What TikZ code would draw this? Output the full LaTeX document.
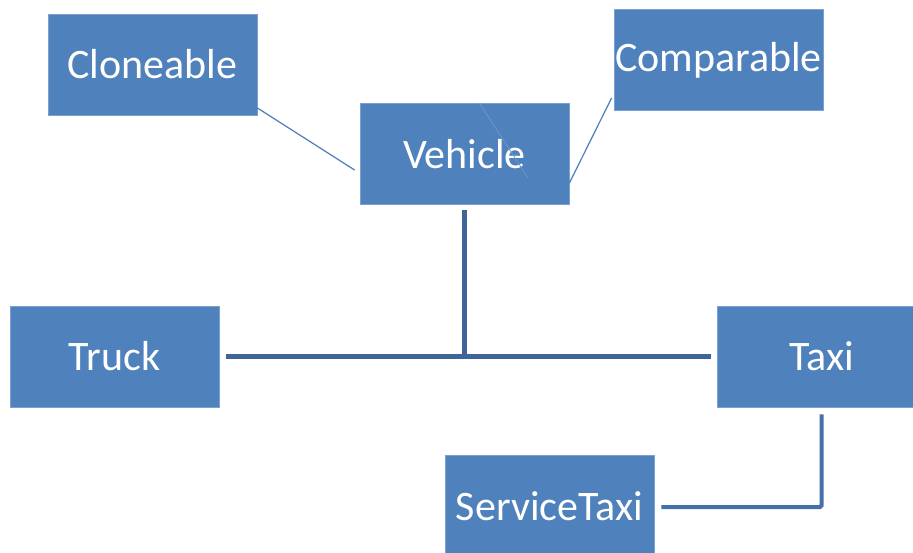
\documentclass[tikz,border=0pt]{standalone}
\usepackage{fontspec}
\setmainfont{Carlito}
\usetikzlibrary{calc}
\definecolor{boxfill}{HTML}{4F81BD}
\definecolor{boxedge}{HTML}{7A9FD0}
\definecolor{linkthin}{HTML}{4A7EBB}
\definecolor{linkthick}{HTML}{3F6598}
\definecolor{linkmid}{HTML}{4571AA}
\begin{document}
\begin{tikzpicture}[x=1pt,y=-1pt,
  cls/.style={rectangle, fill=boxfill, draw=boxedge, line width=0.8pt,
    minimum width=209pt, minimum height=101pt, inner sep=0pt,
    text=white, font=\fontsize{42}{48}\selectfont},
  thinlink/.style={draw=linkthin, line width=1.2pt},
  treelink/.style={draw=linkthick, line width=5pt},
  sublink/.style={draw=linkmid, line width=4pt, rounded corners=1.5pt}]
\clip (0,0) rectangle (913,552);
\fill[white] (0,0) rectangle (913,552);

% class boxes
\node[cls] (clone) at (152.5,64.5) {Cloneable};
\node[cls] (comp)  at (718.5,60)   {Comparable};
\node[cls] (veh)   at (464.5,154)  {Vehicle};
\node[cls] (truck) at (114.5,356.5) {Truck};
\node[cls] (taxi)  at (821.5,356.5) {Taxi};
\node[cls, minimum height=102pt] (st) at (549.5,506) {ServiceTaxi};

% faint stroke across the Vehicle box
\draw[draw=boxedge!70!boxfill, line width=0.8pt]
  ([xshift=15pt]veh.north) -- ([xshift=63.5pt,yshift=-24pt]veh.center);

% interface links
\draw[thinlink] ([yshift=-43.5pt]clone.east) -- ([xshift=-5pt,yshift=-16pt]veh.west);
\draw[thinlink] ([xshift=-2pt,yshift=-38pt]comp.west) -- ([yshift=-29pt]veh.east);

% inheritance tree
\coordinate (joint) at (veh.south |- truck.east);
\draw[treelink] ([yshift=-5pt]veh.south) -- (joint);
\draw[treelink] ([xshift=7pt]truck.east) -- ([xshift=-6pt]taxi.west);
\draw[sublink] ([yshift=-7pt]taxi.south) |- ([xshift=7pt,yshift=-1pt]st.east);
\end{tikzpicture}
\end{document}
